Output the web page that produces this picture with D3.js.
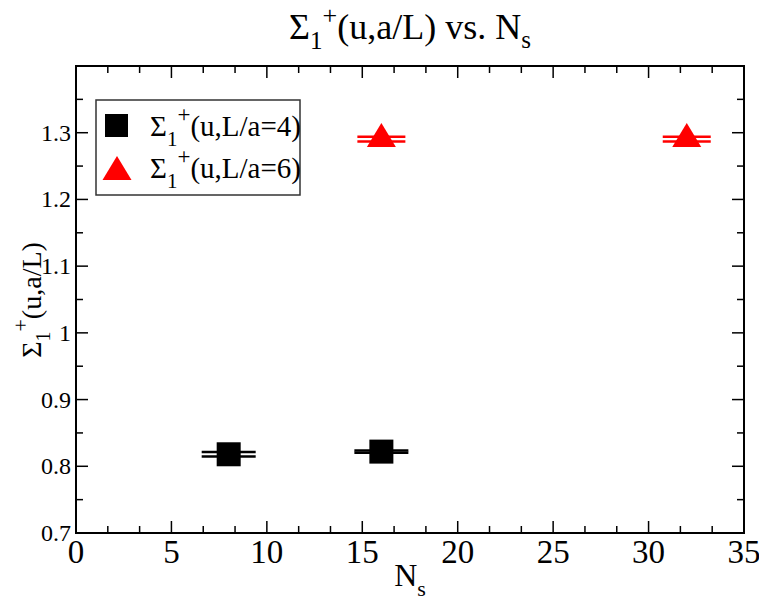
<!DOCTYPE html>
<html><head><meta charset="utf-8">
<script src="https://cdn.jsdelivr.net/npm/d3@7"></script>
<style>body{margin:0;background:#fff}svg{display:block}</style>
</head><body>
<svg id="c" width="759" height="604"></svg>
<script>
const xTicks = [0,5,10,15,20,25,30,35];
const yTicks = [0.7,0.8,0.9,1.0,1.1,1.2,1.3];
const yTickLabels = ["0.7","0.8","0.9","1","1.1","1.2","1.3"];
const nsL4 = [8,16];
const valL4 = [0.818,0.822];
const errL4 = [0.0035,0.0017];
const nsL6 = [16,32];
const valL6 = [1.2905,1.2905];
const errL6 = [0.0035,0.0035];
const legendLabels = ["(u,L/a=4)","(u,L/a=6)"];

const FONT = '"Liberation Serif"';
const svg = d3.select("#c");
const L=76,R=744,T=66,B=533;
const x = d3.scaleLinear().domain([0,35]).range([L,R]);
const y = d3.scaleLinear().domain([0.7,1.4]).range([B,T]);

svg.append("rect").attr("x",L).attr("y",T).attr("width",R-L).attr("height",B-T)
  .attr("fill","none").attr("stroke","#000").attr("stroke-width",2);

const xMinor = d3.range(0,35.001,5/3);
const yMinor = d3.range(0.7,1.4001,0.05);
const tg = svg.append("g").attr("stroke","#000").attr("stroke-width",1.5);
xMinor.forEach(v=>{
  const major = xTicks.some(t=>Math.abs(t-v)<1e-6);
  const len = major?12:7;
  tg.append("line").attr("x1",x(v)).attr("x2",x(v)).attr("y1",B).attr("y2",B-len);
  tg.append("line").attr("x1",x(v)).attr("x2",x(v)).attr("y1",T).attr("y2",T+len);
});
yMinor.forEach(v=>{
  const major = Math.abs(Math.round(v*10)-v*10)<1e-6;
  const len = major?12:7;
  tg.append("line").attr("y1",y(v)).attr("y2",y(v)).attr("x1",L).attr("x2",L+len);
  tg.append("line").attr("y1",y(v)).attr("y2",y(v)).attr("x1",R).attr("x2",R-len);
});

svg.append("g").selectAll("text").data(xTicks).join("text")
  .attr("x",d=>x(d)).attr("y",B+30).attr("text-anchor","middle")
  .style("font-family",FONT).style("font-size","33px").text(d=>d);
svg.append("g").selectAll("text").data(yTicks).join("text")
  .attr("x",L-5).attr("y",d=>y(d)+8).attr("text-anchor","end")
  .style("font-family",FONT).style("font-size","24px").text((d,i)=>yTickLabels[i]);

function rich(parent, attrs, size, parts){
  const t = parent.append("text").style("font-family",FONT).style("font-size",size+"px");
  Object.entries(attrs).forEach(([k,v])=>t.attr(k,v));
  parts.forEach(p=>{
    const s = t.append("tspan").text(p[0]);
    if(p[1]) s.attr("dy",p[1]);
    if(p[2]) s.style("font-size",p[2]+"px");
  });
  return t;
}

rich(svg,{x:410,y:39,"text-anchor":"middle"},36,
  [["Σ"],["1",10,25],["+",-25,26],["(u,a/L) vs. N",15],["s",9,25]]);
rich(svg,{x:410,y:586,"text-anchor":"middle"},32,
  [["N"],["s",10,22]]);
rich(svg,{transform:"translate(41,300) rotate(-90)","text-anchor":"middle"},28,
  [["Σ"],["1",9,20],["+",-22,22],["(u,a/L)",13]]);

function errbar(g, xs, vs, es, color, half){
  xs.forEach((xv,i)=>{
    const cx=x(xv);
    [vs[i]-es[i], vs[i]+es[i]].forEach(v=>{
      g.append("line").attr("x1",cx-half).attr("x2",cx+half).attr("y1",y(v)).attr("y2",y(v))
        .attr("stroke",color).attr("stroke-width",2.5);
    });
    g.append("line").attr("x1",cx).attr("x2",cx).attr("y1",y(vs[i]-es[i])).attr("y2",y(vs[i]+es[i]))
      .attr("stroke",color).attr("stroke-width",2.5);
  });
}
const g = svg.append("g");
errbar(g,nsL4,valL4,errL4,"#000",27);
errbar(g,nsL6,valL6,errL6,"#f00",24);
const sq=24;
g.selectAll("rect.m").data(nsL4).join("rect").attr("class","m")
  .attr("x",d=>x(d)-sq/2).attr("y",(d,i)=>y(valL4[i])-sq/2).attr("width",sq).attr("height",sq).attr("fill","#000");
function tri(cx,cy){ return `M${cx},${cy-16}L${cx+14.5},${cy+8}L${cx-14.5},${cy+8}Z`; }
g.selectAll("path.m").data(nsL6).join("path").attr("class","m")
  .attr("d",(d,i)=>tri(x(d),y(valL6[i]))).attr("fill","#f00");

const lg = svg.append("g");
lg.append("rect").attr("x",96).attr("y",100).attr("width",204).attr("height",95)
  .attr("fill","#fff").attr("stroke","#333").attr("stroke-width",1.5);
lg.append("rect").attr("x",105).attr("y",114).attr("width",23).attr("height",23).attr("fill","#000");
lg.append("path").attr("d",tri(117,172)).attr("fill","#f00");
[136,178].forEach((yy,i)=>{
  rich(lg,{x:150,y:yy},29,[["Σ"],["1",10,21],["+",-24,23],[legendLabels[i],14]]);
});
</script>
</body></html>
